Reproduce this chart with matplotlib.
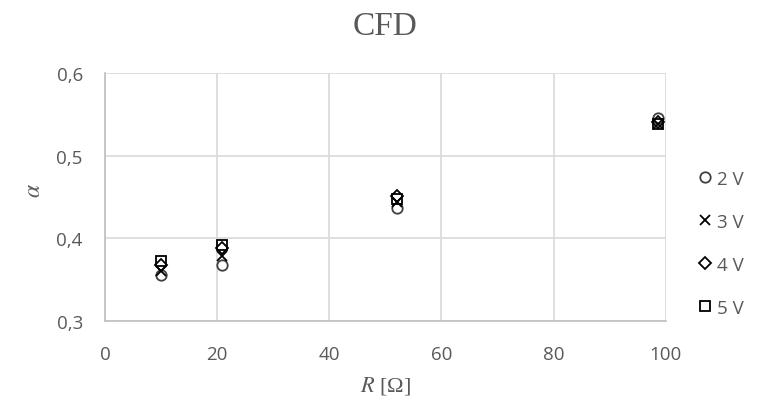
import matplotlib
matplotlib.use('Agg')
import matplotlib.pyplot as plt
from matplotlib.ticker import FuncFormatter, MultipleLocator
from matplotlib.lines import Line2D

plt.rcParams['mathtext.fontset'] = 'stix'

# resistance [Ohm] and measured alpha per supply voltage
R_OHM    = [10.0, 20.8, 52.0, 98.6]
ALPHA_2V = [0.356, 0.368, 0.437, 0.545]
ALPHA_3V = [0.361, 0.379, 0.444, 0.538]
ALPHA_4V = [0.368, 0.388, 0.451, 0.541]
ALPHA_5V = [0.372, 0.392, 0.447, 0.538]
LABELS   = ['2 V', '3 V', '4 V', '5 V']

TXT  = '#595959'
GRID = '#d9d9d9'
AXC  = '#bfbfbf'
TICK_FONT = 'Open Sans'
SERIF = 'Liberation Serif'

fig = plt.figure(figsize=(7.75, 4.06), dpi=100)
ax = fig.add_axes([0.1355, 0.2069, 0.7235, 0.6108])

series = [
    (ALPHA_2V, 'o', '#404040'),
    (ALPHA_3V, 'x', 'black'),
    (ALPHA_4V, 'D', 'black'),
    (ALPHA_5V, 's', 'black'),
]
handles = []
for vals, mk, col in series:
    ms = 6 if mk == 'D' else 7.5
    ax.plot(R_OHM, vals, linestyle='none', marker=mk, markersize=ms,
            markerfacecolor='none', markeredgecolor=col, markeredgewidth=1.3,
            zorder=3)
    handles.append(Line2D([], [], linestyle='none', marker=mk, markersize=ms,
                          markerfacecolor='none', markeredgecolor=col,
                          markeredgewidth=1.3))

ax.set_xlim(0, 100)
ax.set_ylim(0.3, 0.6)
ax.xaxis.set_major_locator(MultipleLocator(20))
ax.yaxis.set_major_locator(MultipleLocator(0.1))
ax.yaxis.set_major_formatter(FuncFormatter(lambda v, p: f'{v:.1f}'.replace('.', ',')))
ax.grid(True, color=GRID, linewidth=1.2)
ax.set_axisbelow(True)
for side in ['top', 'right']:
    ax.spines[side].set_visible(False)
for side in ['left', 'bottom']:
    ax.spines[side].set_color(AXC)
    ax.spines[side].set_linewidth(1.2)
ax.tick_params(axis='x', length=0, pad=17, labelsize=13.5, labelcolor=TXT)
ax.tick_params(axis='y', length=0, pad=16, labelsize=13.5, labelcolor=TXT)
for t in ax.get_xticklabels() + ax.get_yticklabels():
    t.set_fontfamily(TICK_FONT)

ax.set_title('CFD', fontsize=24, family=SERIF, color=TXT, pad=28)
ax.set_xlabel(r'$R$ [Ω]', fontsize=16, family=SERIF, color=TXT, labelpad=8)
ax.set_ylabel(r'$\alpha$', fontsize=17, color=TXT, rotation=90)
ax.yaxis.set_label_coords(-0.107, 0.53)

fig.legend(handles, LABELS, loc='center left', bbox_to_anchor=(0.878, 0.398),
           frameon=False, handlelength=0.8, handletextpad=0.25,
           labelspacing=1.33, prop={'family': TICK_FONT, 'size': 13.5},
           labelcolor=TXT)

fig.savefig('out.png', dpi=100, facecolor='white')
